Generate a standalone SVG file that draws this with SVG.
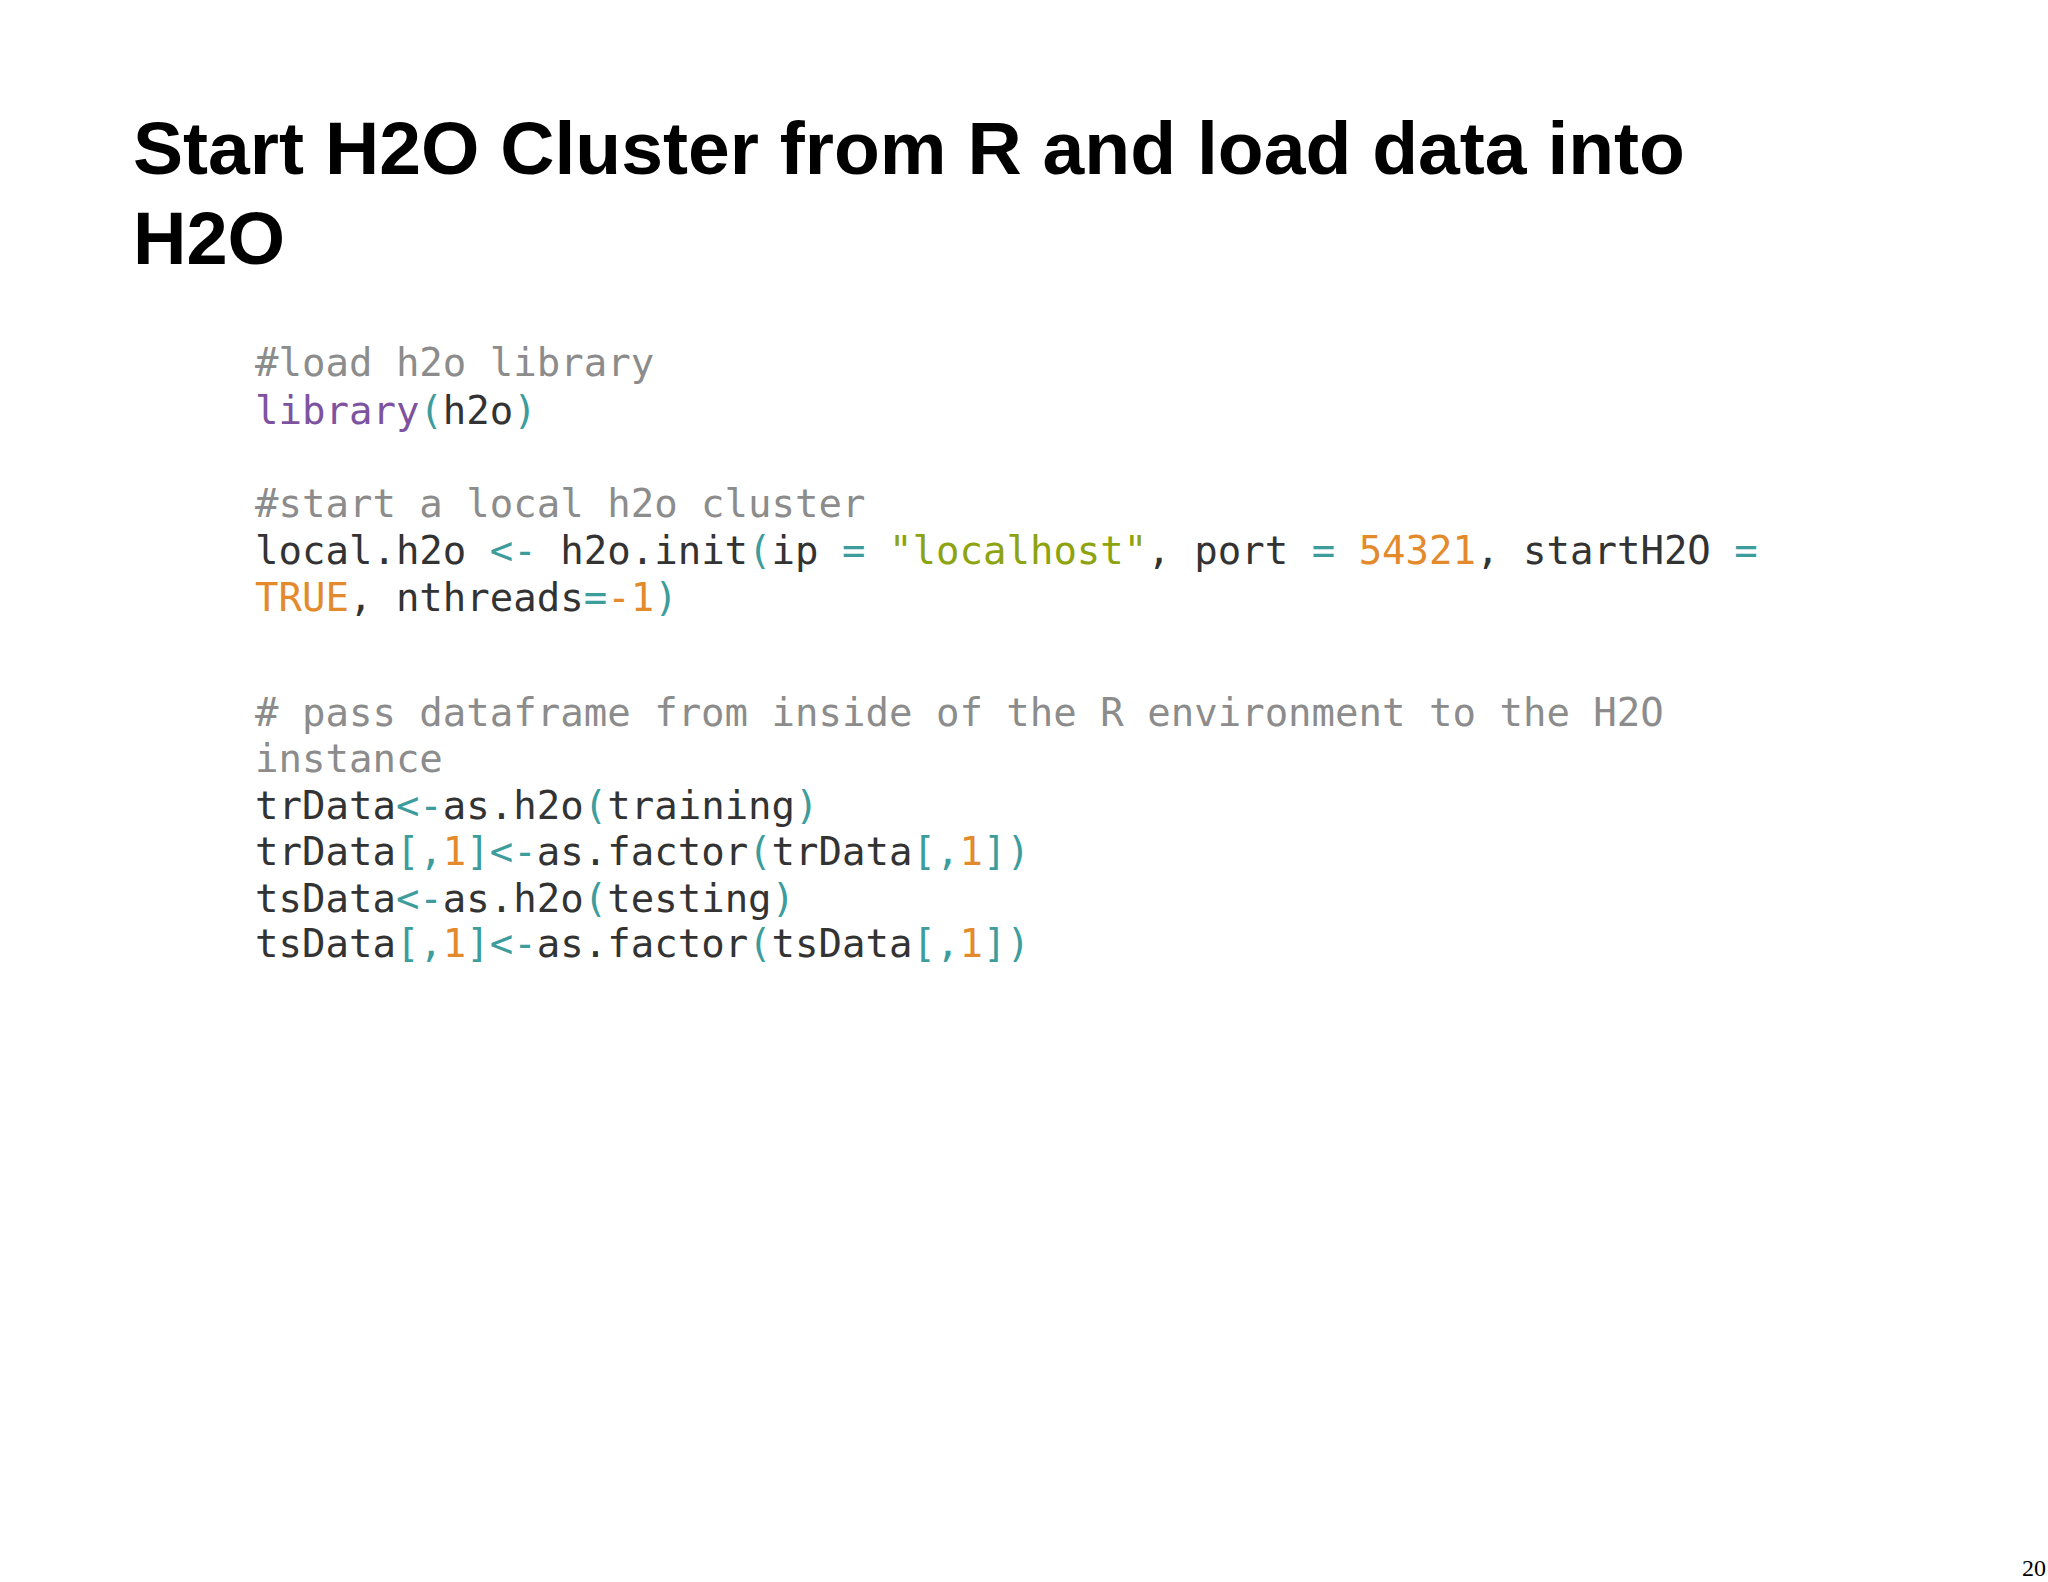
<svg xmlns="http://www.w3.org/2000/svg" width="2048" height="1582" viewBox="0 0 2048 1582">
<style>
.t{font-family:"Gill Sans","Liberation Sans",Arial,sans-serif;font-weight:bold;font-size:74px;fill:#000}
.c{font-family:"DejaVu Sans Mono","Liberation Mono",monospace;font-size:39px;fill:#333}
.cm{fill:#8c8c8c}.kw{fill:#7d539f}.p{fill:#3d9c9c}.s{fill:#8da30f}.n{fill:#e38b2c}
</style>
<rect width="2048" height="1582" fill="#fff"/>
<g id="title">
<text class="t" x="133" y="174" textLength="1552" lengthAdjust="spacingAndGlyphs">Start H2O Cluster from R and load data into</text>
<text class="t" x="133" y="264">H2O</text>
</g>
<g id="code" class="c" xml:space="preserve">
<text x="255" y="376" class="cm">#load h2o library</text>
<text x="255" y="424"><tspan class="kw">library</tspan><tspan class="p">(</tspan>h2o<tspan class="p">)</tspan></text>
<text x="255" y="517" class="cm">#start a local h2o cluster</text>
<text x="255" y="564">local.h2o <tspan class="p">&lt;-</tspan> h2o.init<tspan class="p">(</tspan>ip <tspan class="p">=</tspan> <tspan class="s">"localhost"</tspan>, port <tspan class="p">=</tspan> <tspan class="n">54321</tspan>, startH2O <tspan class="p">=</tspan></text>
<text x="255" y="611"><tspan class="n">TRUE</tspan>, nthreads<tspan class="p">=</tspan><tspan class="n">-1</tspan><tspan class="p">)</tspan></text>
<text x="255" y="726" class="cm"># pass dataframe from inside of the R environment to the H2O</text>
<text x="255" y="772" class="cm">instance</text>
<text x="255" y="819">trData<tspan class="p">&lt;-</tspan>as.h2o<tspan class="p">(</tspan>training<tspan class="p">)</tspan></text>
<text x="255" y="865">trData<tspan class="p">[,</tspan><tspan class="n">1</tspan><tspan class="p">]&lt;-</tspan>as.factor<tspan class="p">(</tspan>trData<tspan class="p">[,</tspan><tspan class="n">1</tspan><tspan class="p">])</tspan></text>
<text x="255" y="912">tsData<tspan class="p">&lt;-</tspan>as.h2o<tspan class="p">(</tspan>testing<tspan class="p">)</tspan></text>
<text x="255" y="957">tsData<tspan class="p">[,</tspan><tspan class="n">1</tspan><tspan class="p">]&lt;-</tspan>as.factor<tspan class="p">(</tspan>tsData<tspan class="p">[,</tspan><tspan class="n">1</tspan><tspan class="p">])</tspan></text>
</g>
<text x="2022" y="1576" font-family="Liberation Serif,serif" font-size="24" fill="#000">20</text>
</svg>
